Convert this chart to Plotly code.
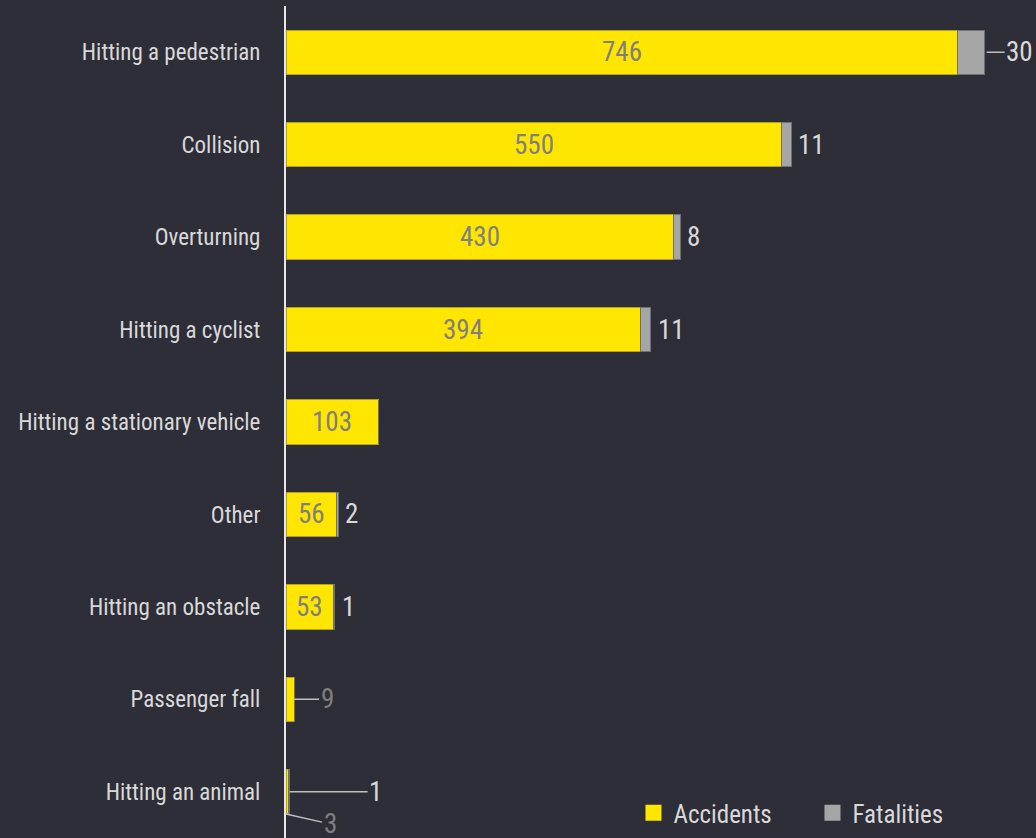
import plotly.graph_objects as go

categories = ["Hitting a pedestrian", "Collision", "Overturning", "Hitting a cyclist",
              "Hitting a stationary vehicle", "Other", "Hitting an obstacle",
              "Passenger fall", "Hitting an animal"]
accidents = [746, 550, 430, 394, 103, 56, 53, 9, 3]
fatalities = [30, 11, 8, 11, 0, 2, 1, 0, 1]

BG = "#2e2e38"
YELLOW = "#ffe600"
GREY = "#a6a6a6"
ACC_LABEL = "#7f7f7f"
FAT_LABEL = "#d9d9d9"
TEXT = "#d9d9d9"
LEADER = "#bfbfbf"
FONT = "Roboto Condensed, Liberation Sans Narrow, sans-serif"
VAL_SIZE = 27

fig = go.Figure()
fig.add_trace(go.Bar(y=categories, x=accidents, orientation="h", name="Accidents",
                     marker=dict(color=YELLOW, line=dict(color="#b3a31c", width=1)),
                     width=0.48, hoverinfo="skip", showlegend=False))
fig.add_trace(go.Bar(y=categories, x=fatalities, orientation="h", name="Fatalities",
                     marker=dict(color=GREY, line=dict(color="#707070", width=1)),
                     width=0.48, hoverinfo="skip", showlegend=False))
# legend entries with larger square swatches
for name, col in [("Accidents", YELLOW), ("Fatalities", GREY)]:
    fig.add_trace(go.Scatter(x=[None], y=[None], mode="markers", name=name,
                             marker=dict(symbol="square", size=16, color=col),
                             hoverinfo="skip"))

annotations = []
for i, (cat, a, f) in enumerate(zip(categories, accidents, fatalities)):
    total = a + f
    if a >= 40:
        annotations.append(dict(x=a / 2, y=i, text=str(a), showarrow=False,
                                font=dict(color=ACC_LABEL, size=VAL_SIZE, family=FONT)))
    elif f > 0:
        annotations.append(dict(x=0, y=i + 0.24, text=str(a), showarrow=True,
                                arrowhead=0, arrowwidth=1.5, arrowcolor=LEADER,
                                ax=44, ay=10, standoff=0,
                                font=dict(color=ACC_LABEL, size=VAL_SIZE, family=FONT)))
    else:
        annotations.append(dict(x=a, y=i, text=str(a), showarrow=True,
                                arrowhead=0, arrowwidth=1.5, arrowcolor=LEADER,
                                ax=33, ay=0, standoff=0,
                                font=dict(color=ACC_LABEL, size=VAL_SIZE, family=FONT)))
    if f > 0:
        if f >= 20:
            annotations.append(dict(x=total, y=i, text=str(f), showarrow=True,
                                    arrowhead=0, arrowwidth=1.5, arrowcolor=LEADER,
                                    ax=35, ay=0, standoff=2,
                                    font=dict(color=FAT_LABEL, size=VAL_SIZE, family=FONT)))
        elif a < 40:
            annotations.append(dict(x=total, y=i, text=str(f), showarrow=True,
                                    arrowhead=0, arrowwidth=1.5, arrowcolor=LEADER,
                                    ax=86, ay=0, standoff=0,
                                    font=dict(color=FAT_LABEL, size=VAL_SIZE, family=FONT)))
        else:
            annotations.append(dict(x=total, y=i, text=str(f), showarrow=False,
                                    xanchor="left", xshift=5,
                                    font=dict(color=FAT_LABEL, size=VAL_SIZE, family=FONT)))

fig.update_layout(
    barmode="stack",
    width=1036, height=838,
    paper_bgcolor=BG, plot_bgcolor=BG,
    margin=dict(l=286, r=0, t=6, b=0, autoexpand=False),
    font=dict(family=FONT, color=TEXT, size=24),
    xaxis=dict(range=[0, 833], visible=False, showgrid=False, zeroline=False),
    yaxis=dict(autorange="reversed", showgrid=False, zeroline=False, automargin=False,
               showline=True, linecolor="#e6e6e6", linewidth=2,
               ticks="", ticklabelstandoff=19,
               tickfont=dict(size=23, color=TEXT, family=FONT)),
    legend=dict(orientation="h", x=0.4633, y=0.03, xanchor="left", yanchor="middle",
                font=dict(size=25, color=TEXT, family=FONT), bgcolor="rgba(0,0,0,0)",
                itemwidth=30, traceorder="normal", entrywidth=134, entrywidthmode="pixels"),
    annotations=annotations,
    bargap=0.52,
)

fig.write_html("out.html", config={"displayModeBar": False},
               post_script="document.body.style.margin='0';")
